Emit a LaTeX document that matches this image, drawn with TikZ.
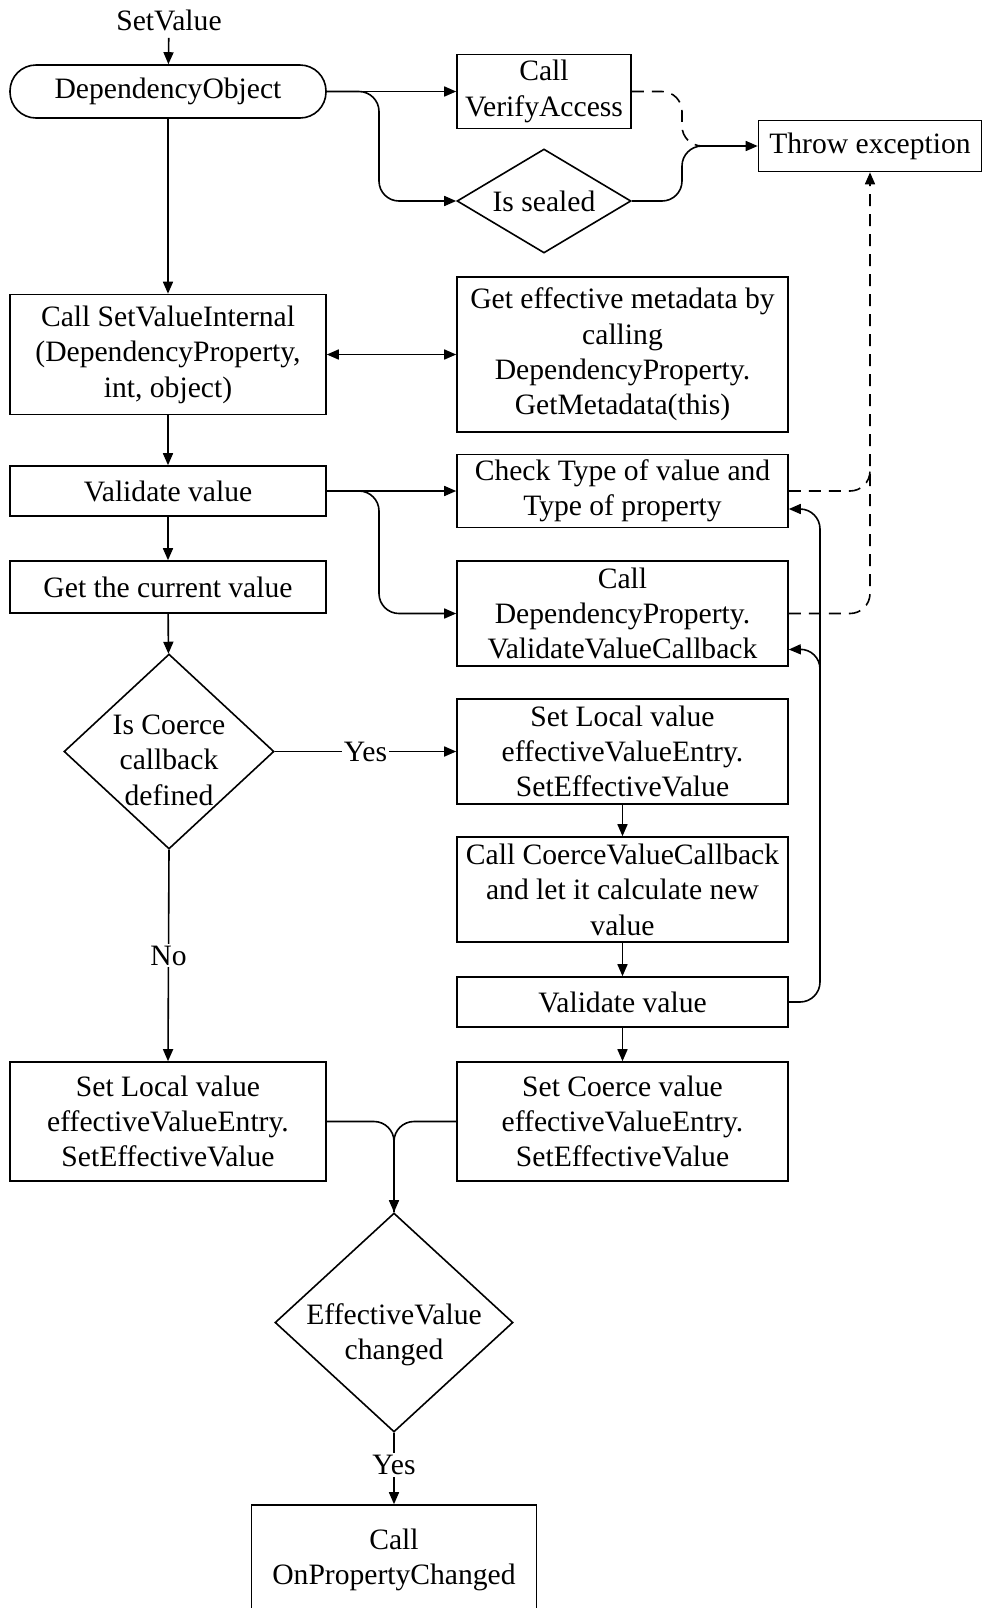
\documentclass[tikz,border=0pt]{standalone}
\usepackage{fontspec}
\setmainfont{Liberation Serif}
\usetikzlibrary{shapes.geometric,arrows.meta,calc}

\begin{document}
\begin{tikzpicture}[x=0.5pt, y=-0.5pt, line width=0.8pt,
  font=\fontsize{14.8}{17.7}\selectfont,
  box/.style={draw, rectangle, align=center, inner sep=0pt},
  terminal/.style={draw, rectangle, rounded corners=13pt, inner sep=0pt},
  decision/.style={draw, diamond, inner sep=0pt},
  arr/.style={-{Triangle[length=6pt,width=5pt]}},
  dashline/.style={dash pattern=on 6pt off 4pt}]
\useasboundingbox (0,0) rectangle (982,1608);
\node(sv) at (169,20) {SetValue};
\node(dobj) [terminal, minimum width=158pt, minimum height=26.5pt] at (168,91.5) {DependencyObject};
\node(verify) [box, minimum width=87pt, minimum height=37pt] at (544,91.5) {Call\\VerifyAccess};
\node(sealed) [decision, minimum width=87pt, minimum height=52pt] at (544,201) {};
\node(sealedtxt) at (sealed) {Is sealed};
\node(throw) [box, minimum width=111.5pt, minimum height=25.5pt] at (870,146) {Throw exception};
\node(svi) [box, minimum width=158pt, minimum height=60pt] at (168,354.5) {Call SetValueInternal\\(DependencyProperty,\\int, object)};
\node(meta) [box, minimum width=165.5pt, minimum height=77.5pt] at (622.5,354.5) {Get effective metadata by\\calling\\DependencyProperty.\\GetMetadata(this)};
\node(val) [box, minimum width=158pt, minimum height=25pt] at (168,491) {Validate value};
\node(check) [box, minimum width=165.5pt, minimum height=36.5pt] at (622.5,491) {Check Type of value and\\Type of property};
\node(cur) [box, minimum width=158pt, minimum height=26pt] at (168,587) {Get the current value};
\node(vvc) [box, minimum width=165.5pt, minimum height=52.5pt] at (622.5,613.5) {Call\\DependencyProperty.\\ValidateValueCallback};
\node(coerce) [decision, minimum width=105pt, minimum height=97.5pt] at (169,751.5) {};
\node(coercetxt) [align=center] at (169,760) {Is Coerce\\callback\\defined};
\node(setlocr) [box, minimum width=165.5pt, minimum height=52.5pt] at (622.5,751.5) {Set Local value\\effectiveValueEntry.\\SetEffectiveValue};
\node(coercecb) [box, minimum width=165.5pt, minimum height=52.5pt] at (622.5,889.5) {Call CoerceValueCallback\\and let it calculate new\\value};
\node(valr) [box, minimum width=165.5pt, minimum height=25pt] at (622.5,1002) {Validate value};
\node(setco) [box, minimum width=165.5pt, minimum height=59.5pt] at (622.5,1121.5) {Set Coerce value\\effectiveValueEntry.\\SetEffectiveValue};
\node(setlocl) [box, minimum width=158pt, minimum height=59.5pt] at (168,1121.5) {Set Local value\\effectiveValueEntry.\\SetEffectiveValue};
\node(effect) [decision, minimum width=119pt, minimum height=109.5pt] at (394,1322.5) {};
\node(effecttxt) [align=center] at (394,1335) {EffectiveValue\\changed};
\node(opc) [box, minimum width=142.5pt, minimum height=55pt] at (394,1560) {Call\\OnPropertyChanged};

\draw[arr] (sv) -- (dobj);
\draw[arr] (dobj) -- (svi);
\draw[arr] (svi) -- (val);
\draw[arr] (val) -- (cur);
\draw[arr] (cur) -- (coerce);
\draw[arr] (dobj.east) -- (verify.west);
\draw[arr, rounded corners=10pt] (dobj.east) -- (379,91.5) |- (sealed.west);
\draw[dashline, rounded corners=10pt] (verify.east) -- (682,91.5) |- (720,146);
\draw[arr, rounded corners=10pt] (sealed.east) -- (682,201) |- (throw.west);
\draw[{Triangle[length=6pt,width=5pt]}-{Triangle[length=6pt,width=5pt]}] (svi) -- (meta);
\draw[arr] (val.east) -- (check.west);
\draw[arr, rounded corners=10pt] (val.east) -- (379,491) |- (vvc.west);
\draw[arr, dashline, rounded corners=10pt] (vvc.east) -| (throw.south);
\draw[dashline, rounded corners=10pt] (check.east) -| ($(throw.south |- check.east)+(0,-24)$);
\draw[arr] (coerce.east) -- node[fill=white, inner sep=1pt] (yes1) {Yes} (setlocr.west);
\draw[arr] (coerce.south) -- node[fill=white, inner sep=1pt] (no1) {No} (setlocl.north);
\draw[arr] (setlocr) -- (coercecb);
\draw[arr] (coercecb) -- (valr);
\draw[arr] (valr) -- (setco);
\draw[arr, rounded corners=10pt] (valr.east) -- (820,1002) -- (820,509) -- ($(check.east)+(0,18)$);
\draw[arr, rounded corners=10pt] (820,700) -- (820,649) -- ($(vvc.east)+(0,36)$);
\draw[arr, rounded corners=10pt] (setlocl.east) -| (effect.north);
\draw[rounded corners=10pt] (setco.west) -| (effect.north);
\draw[arr] (effect.south) -- node[pos=0.45, fill=white, inner sep=1pt] (yes2) {Yes} (opc.north);
\end{tikzpicture}
\end{document}
